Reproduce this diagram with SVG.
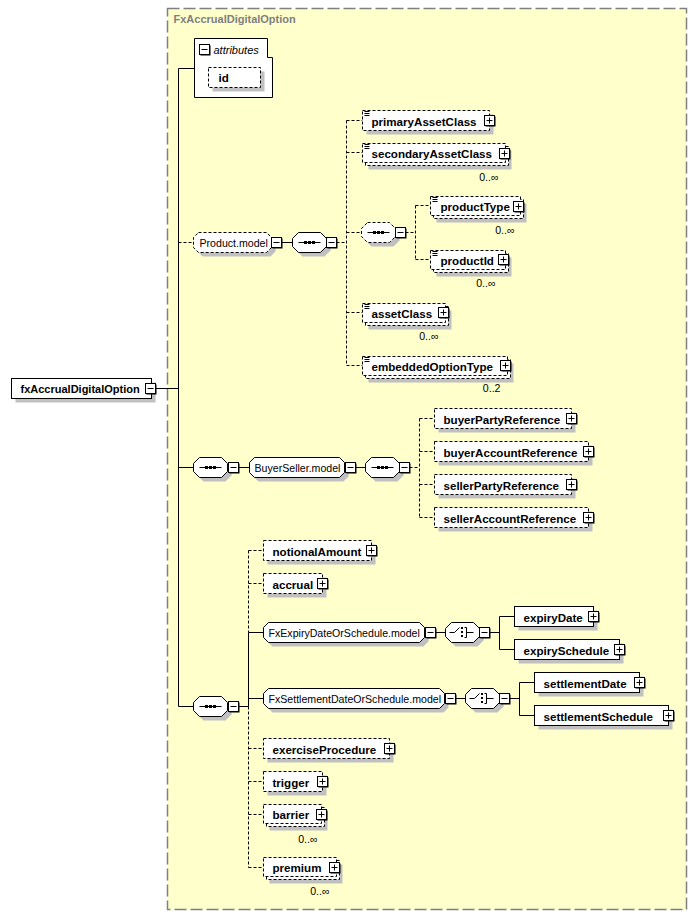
<svg xmlns="http://www.w3.org/2000/svg" xmlns:xlink="http://www.w3.org/1999/xlink" width="695" height="915" viewBox="0 0 695 915">
<style>
text{font-family:"Liberation Sans",Arial,sans-serif;fill:#000}
.n{font-size:11.6px;font-weight:bold}
.r{font-size:11px;font-weight:bold}
.m{font-size:10.6px}
.o{font-size:10.6px;text-anchor:end}
.ttl{font-size:11px;font-weight:bold;fill:#808080}
.it{font-size:11px;font-style:italic}
.bx{fill:#fff;stroke:#000;stroke-width:1}
.db{fill:#fff;stroke:#000;stroke-width:1;stroke-dasharray:3,2}
.sh{fill:#c0c0c0}
.ln{fill:none;stroke:#000;stroke-width:1}
.dl{fill:none;stroke:#000;stroke-width:1;stroke-dasharray:3,2}
</style>
<defs>
<g id="minus"><rect x="1" y="1" width="10" height="10" fill="#000"/><rect x="0" y="0" width="10" height="10" class="bx"/><path d="M2,5H8" class="ln"/></g>
<g id="plus"><rect x="1" y="1" width="10" height="10" fill="#000"/><rect x="0" y="0" width="10" height="10" class="bx"/><path d="M2,5H8M5,2V8" class="ln"/></g>
<g id="seqIcon"><path d="M6,10H28" class="ln"/><rect x="12" y="9" width="2" height="2" fill="#000" stroke="#000"/><rect x="16" y="9" width="2" height="2" fill="#000" stroke="#000"/><rect x="20" y="9" width="2" height="2" fill="#000" stroke="#000"/></g>
<g id="seqS"><path class="sh" d="M10,4H32L38,10V18L32,24H10L4,18V10Z"/><path class="bx" d="M6,0H28L34,6V14L28,20H6L0,14V6Z"/><use xlink:href="#seqIcon"/></g>
<g id="seqD"><path class="sh" d="M10,4H32L38,10V18L32,24H10L4,18V10Z"/><path class="db" d="M6,0H28L34,6V14L28,20H6L0,14V6Z"/><use xlink:href="#seqIcon"/></g>
<g id="choiceS"><path class="sh" d="M10,4H32L38,10V18L32,24H10L4,18V10Z"/><path class="bx" d="M6,0H28L34,6V14L28,20H6L0,14V6Z"/><path d="M4,10H9L14,5M19,5H21V15H19M21,10H28" class="ln"/><rect x="16" y="5" width="1" height="1" fill="#000" stroke="#000"/><rect x="16" y="9" width="1" height="1" fill="#000" stroke="#000"/><rect x="16" y="13" width="1" height="1" fill="#000" stroke="#000"/></g>
<g id="doc"><path d="M2,1H7M2,3H7M2,5H7" class="ln"/></g>
</defs>
<g transform="translate(0.5,0.5)">
<rect x="167" y="8" width="519" height="901" fill="#ffffcc" stroke="#808080" stroke-width="1.5" stroke-dasharray="12,4"/>
<text class="ttl" x="173" y="22">FxAccrualDigitalOption</text>

<g id="connectors">
<path class="ln" d="M155,388H178M178,68V706M178,68H194M178,467H193M178,706H193M281,242H292M238,467H249M355,467H365M238,706H248M248,632V706M248,632H263M248,698H263M435,632H445M489,632H499M499,616V649M499,616H514M499,649H514M455,698H465M509,698H519M519,682V715M519,682H534M519,715H534"/>
<path class="dl" d="M178,242H193M336,242H346M346,120V365M346,120H362M346,152H362M346,232H361M346,312H362M346,365H362M405,232H415M415,205V259M415,205H430M415,259H430M409,467H419M419,418V517M419,418H434M419,451H434M419,484H434M419,517H434M248,550V632M248,706V867M248,550H263M248,583H263M248,748H263M248,781H263M248,814H263M248,867H263"/>
</g>

<g id="root">
<rect class="sh" x="15" y="382" width="140" height="20"/>
<rect class="bx" x="11" y="378" width="140" height="20"/>
<text class="r" x="20" y="392">fxAccrualDigitalOption</text>
<use xlink:href="#minus" x="145" y="383"/>
</g>

<g id="attributes">
<path class="bx" d="M194,38H267V57H272V97H194Z"/>
<use xlink:href="#minus" x="199" y="44"/>
<text class="it" x="213" y="53">attributes</text>
<g id="attr-id">
<rect class="sh" x="212" y="71" width="52" height="20"/>
<rect class="db" x="208" y="67" width="52" height="20"/>
<text class="n" x="218" y="81">id</text>
</g>
</g>

<g id="product-model">
<path class="sh" d="M202,236H270L275,241V251L270,256H202L197,251V241Z"/>
<path class="db" d="M198,232H266L271,237V247L266,252H198L193,247V237Z"/>
<text class="m" x="199" y="246">Product.model</text>
<use xlink:href="#minus" x="271" y="237"/>
</g>
<g id="product-seq"><use xlink:href="#seqS" x="292" y="232"/><use xlink:href="#minus" x="326" y="237"/></g>

<g id="primaryAssetClass">
<rect class="sh" x="366" y="114" width="127" height="20"/>
<rect class="db" x="362" y="110" width="127" height="20"/>
<use xlink:href="#doc" x="362" y="110"/>
<text class="n" x="371" y="125">primaryAssetClass</text>
<use xlink:href="#plus" x="484" y="115"/>
</g>

<g id="secondaryAssetClass">
<rect class="sh" x="368" y="150" width="143" height="19"/>
<rect class="db" x="365" y="146" width="143" height="19"/>
<rect class="db" x="362" y="143" width="143" height="19"/>
<use xlink:href="#doc" x="362" y="143"/>
<text class="n" x="371" y="157">secondaryAssetClass</text>
<use xlink:href="#plus" x="499" y="148"/>
<text class="o" x="498" y="180">0..∞</text>
</g>

<g id="inner-seq"><use xlink:href="#seqD" x="361" y="222"/><use xlink:href="#minus" x="395" y="227"/></g>

<g id="productType">
<rect class="sh" x="436" y="203" width="90" height="19"/>
<rect class="db" x="433" y="199" width="90" height="19"/>
<rect class="db" x="430" y="196" width="90" height="19"/>
<use xlink:href="#doc" x="430" y="196"/>
<text class="n" x="440" y="210">productType</text>
<use xlink:href="#plus" x="513" y="201"/>
<text class="o" x="514" y="233">0..∞</text>
</g>

<g id="productId">
<rect class="sh" x="436" y="257" width="75" height="19"/>
<rect class="db" x="433" y="253" width="75" height="19"/>
<rect class="db" x="430" y="250" width="75" height="19"/>
<use xlink:href="#doc" x="430" y="250"/>
<text class="n" x="440" y="264">productId</text>
<use xlink:href="#plus" x="498" y="254"/>
<text class="o" x="495" y="286">0..∞</text>
</g>

<g id="assetClass">
<rect class="sh" x="368" y="310" width="83" height="19"/>
<rect class="db" x="365" y="306" width="83" height="19"/>
<rect class="db" x="362" y="303" width="83" height="19"/>
<use xlink:href="#doc" x="362" y="303"/>
<text class="n" x="371" y="317">assetClass</text>
<use xlink:href="#plus" x="438" y="307"/>
<text class="o" x="438" y="339">0..∞</text>
</g>

<g id="embeddedOptionType">
<rect class="sh" x="368" y="363" width="145" height="19"/>
<rect class="db" x="365" y="359" width="145" height="19"/>
<rect class="db" x="362" y="356" width="145" height="19"/>
<use xlink:href="#doc" x="362" y="356"/>
<text class="n" x="371" y="370">embeddedOptionType</text>
<use xlink:href="#plus" x="500" y="360"/>
<text class="o" x="500" y="391">0..2</text>
</g>

<g id="bs-seq"><use xlink:href="#seqS" x="193" y="457"/><use xlink:href="#minus" x="228" y="462"/></g>
<g id="buyerseller-model">
<path class="sh" d="M258,461H343L348,466V476L343,481H258L253,476V466Z"/>
<path class="bx" d="M254,457H339L344,462V472L339,477H254L249,472V462Z"/>
<text class="m" x="254" y="471">BuyerSeller.model</text>
<use xlink:href="#minus" x="345" y="462"/>
</g>
<g id="bs-inner-seq"><use xlink:href="#seqS" x="365" y="457"/><use xlink:href="#minus" x="399" y="462"/></g>

<g id="buyerPartyReference">
<rect class="sh" x="438" y="412" width="137" height="20"/>
<rect class="db" x="434" y="408" width="137" height="20"/>
<text class="n" x="443" y="423">buyerPartyReference</text>
<use xlink:href="#plus" x="566" y="413"/>
</g>
<g id="buyerAccountReference">
<rect class="sh" x="438" y="445" width="154" height="20"/>
<rect class="db" x="434" y="441" width="154" height="20"/>
<text class="n" x="443" y="456">buyerAccountReference</text>
<use xlink:href="#plus" x="583" y="446"/>
</g>
<g id="sellerPartyReference">
<rect class="sh" x="438" y="478" width="137" height="20"/>
<rect class="db" x="434" y="474" width="137" height="20"/>
<text class="n" x="443" y="489">sellerPartyReference</text>
<use xlink:href="#plus" x="566" y="479"/>
</g>
<g id="sellerAccountReference">
<rect class="sh" x="438" y="511" width="154" height="20"/>
<rect class="db" x="434" y="507" width="154" height="20"/>
<text class="n" x="443" y="522">sellerAccountReference</text>
<use xlink:href="#plus" x="583" y="512"/>
</g>

<g id="main-seq"><use xlink:href="#seqS" x="193" y="696"/><use xlink:href="#minus" x="228" y="701"/></g>

<g id="notionalAmount">
<rect class="sh" x="267" y="544" width="108" height="20"/>
<rect class="db" x="263" y="540" width="108" height="20"/>
<text class="n" x="272" y="555">notionalAmount</text>
<use xlink:href="#plus" x="366" y="545"/>
</g>
<g id="accrual">
<rect class="sh" x="267" y="577" width="59" height="20"/>
<rect class="db" x="263" y="573" width="59" height="20"/>
<text class="n" x="272" y="588">accrual</text>
<use xlink:href="#plus" x="317" y="578"/>
</g>

<g id="fxexpiry-model">
<path class="sh" d="M272,626H423L428,631V641L423,646H272L267,641V631Z"/>
<path class="bx" d="M268,622H419L424,627V637L419,642H268L263,637V627Z"/>
<text class="m" x="268" y="636">FxExpiryDateOrSchedule.model</text>
<use xlink:href="#minus" x="425" y="627"/>
</g>
<g id="expiry-choice"><use xlink:href="#choiceS" x="445" y="622"/><use xlink:href="#minus" x="479" y="627"/></g>
<g id="expiryDate">
<rect class="sh" x="518" y="610" width="79" height="20"/>
<rect class="bx" x="514" y="606" width="79" height="20"/>
<text class="n" x="523" y="621">expiryDate</text>
<use xlink:href="#plus" x="588" y="611"/>
</g>
<g id="expirySchedule">
<rect class="sh" x="518" y="643" width="105" height="20"/>
<rect class="bx" x="514" y="639" width="105" height="20"/>
<text class="n" x="523" y="654">expirySchedule</text>
<use xlink:href="#plus" x="614" y="644"/>
</g>

<g id="fxsettlement-model">
<path class="sh" d="M272,692H443L448,697V707L443,712H272L267,707V697Z"/>
<path class="bx" d="M268,688H439L444,693V703L439,708H268L263,703V693Z"/>
<text class="m" x="268" y="702">FxSettlementDateOrSchedule.model</text>
<use xlink:href="#minus" x="445" y="693"/>
</g>
<g id="settlement-choice"><use xlink:href="#choiceS" x="465" y="688"/><use xlink:href="#minus" x="499" y="693"/></g>
<g id="settlementDate">
<rect class="sh" x="538" y="676" width="105" height="20"/>
<rect class="bx" x="534" y="672" width="105" height="20"/>
<text class="n" x="543" y="687">settlementDate</text>
<use xlink:href="#plus" x="634" y="677"/>
</g>
<g id="settlementSchedule">
<rect class="sh" x="538" y="709" width="134" height="20"/>
<rect class="bx" x="534" y="705" width="134" height="20"/>
<text class="n" x="543" y="720">settlementSchedule</text>
<use xlink:href="#plus" x="663" y="710"/>
</g>

<g id="exerciseProcedure">
<rect class="sh" x="267" y="742" width="126" height="20"/>
<rect class="db" x="263" y="738" width="126" height="20"/>
<text class="n" x="272" y="753">exerciseProcedure</text>
<use xlink:href="#plus" x="384" y="743"/>
</g>
<g id="trigger">
<rect class="sh" x="267" y="775" width="59" height="20"/>
<rect class="db" x="263" y="771" width="59" height="20"/>
<text class="n" x="272" y="786">trigger</text>
<use xlink:href="#plus" x="317" y="776"/>
</g>
<g id="barrier">
<rect class="sh" x="269" y="811" width="58" height="19"/>
<rect class="db" x="266" y="807" width="58" height="19"/>
<rect class="db" x="263" y="804" width="58" height="19"/>
<text class="n" x="272" y="818">barrier</text>
<use xlink:href="#plus" x="316" y="809"/>
<text class="o" x="317" y="842">0..∞</text>
</g>
<g id="premium">
<rect class="sh" x="269" y="864" width="73" height="19"/>
<rect class="db" x="266" y="860" width="73" height="19"/>
<rect class="db" x="263" y="857" width="73" height="19"/>
<text class="n" x="272" y="871">premium</text>
<use xlink:href="#plus" x="329" y="862"/>
<text class="o" x="329" y="894">0..∞</text>
</g>
</g>
</svg>
